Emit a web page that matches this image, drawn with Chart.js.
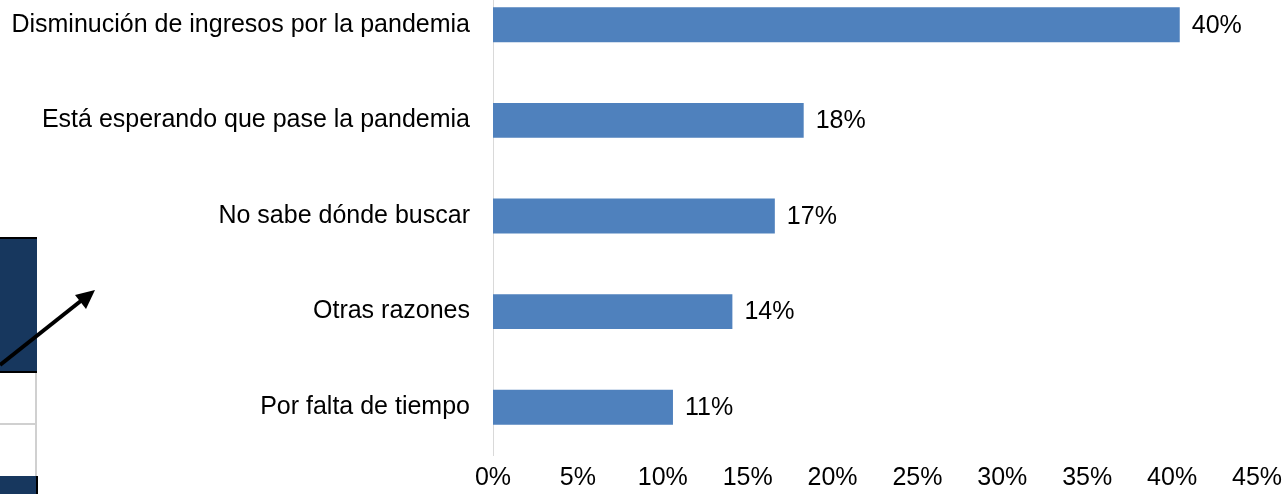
<!DOCTYPE html>
<html>
<head>
<meta charset="utf-8">
<script src="https://cdn.jsdelivr.net/npm/chart.js@4"></script>
<style>
  html, body { margin: 0; padding: 0; background: #fff; overflow: hidden; }
  #wrap { position: absolute; left: 0; top: -61px; width: 1284px; height: 555px; }
</style>
</head>
<body>
<div id="wrap"><canvas id="grafico"></canvas></div>
<script>
// Datos del gráfico
var categorias = [
  'Disminución de ingresos por la pandemia',
  'Está esperando que pase la pandemia',
  'No sabe dónde buscar',
  'Otras razones',
  'Por falta de tiempo'
];
var porcentajes = [40.45, 18.3, 16.6, 14.1, 10.6];
var ticksX = [0, 5, 10, 15, 20, 25, 30, 35, 40, 45];

var OFFSET_Y = 61; // el canvas empieza 61px por encima de la página
var FUENTE = "'Liberation Sans', Arial, sans-serif";
var TAM = 25;

// Etiquetas de valor al final de cada barra
var etiquetasValor = {
  id: 'etiquetasValor',
  afterDatasetsDraw: function(chart) {
    var ctx = chart.ctx;
    var meta = chart.getDatasetMeta(0);
    ctx.save();
    ctx.font = TAM + 'px ' + FUENTE;
    ctx.fillStyle = '#000';
    ctx.textAlign = 'left';
    ctx.textBaseline = 'middle';
    meta.data.forEach(function(bar, i) {
      ctx.fillText(Math.round(porcentajes[i]) + '%', bar.x + 12, bar.y + 1);
    });
    ctx.restore();
  }
};

// Fragmento de la diapositiva que queda a la izquierda (decorativo)
var fragmentoIzq = {
  id: 'fragmentoIzq',
  beforeDraw: function(chart) {
    var ctx = chart.ctx;
    var o = OFFSET_Y;
    ctx.save();
    ctx.fillStyle = '#17375e';
    ctx.fillRect(0, 239 + o, 37, 133);
    ctx.fillRect(0, 476 + o, 37, 20);
    ctx.fillStyle = '#000';
    ctx.fillRect(0, 237 + o, 37, 2);
    ctx.fillRect(0, 371 + o, 37, 2);
    ctx.fillRect(36, 476 + o, 2, 20);
    ctx.fillStyle = '#d0d0d0';
    ctx.fillRect(35, 373 + o, 2, 103);
    ctx.fillRect(0, 423 + o, 36, 2);
    // flecha
    ctx.strokeStyle = '#000';
    ctx.lineWidth = 4;
    ctx.beginPath();
    ctx.moveTo(0, 365 + o);
    ctx.lineTo(82, 300 + o);
    ctx.stroke();
    ctx.fillStyle = '#000';
    ctx.beginPath();
    ctx.moveTo(95, 290 + o);
    ctx.lineTo(75, 295 + o);
    ctx.lineTo(86, 309 + o);
    ctx.closePath();
    ctx.fill();
    ctx.restore();
  }
};

new Chart(document.getElementById('grafico'), {
  type: 'bar',
  data: {
    labels: categorias,
    datasets: [{
      data: porcentajes,
      backgroundColor: '#4f81bd',
      borderWidth: 0,
      barPercentage: 0.365,
      categoryPercentage: 1
    }]
  },
  options: {
    indexAxis: 'y',
    responsive: true,
    maintainAspectRatio: false,
    animation: false,
    layout: { padding: 0 },
    plugins: {
      legend: { display: false },
      tooltip: { enabled: false }
    },
    scales: {
      x: {
        min: 0,
        max: 45,
        afterBuildTicks: function(scale) {
          scale.ticks = ticksX.map(function(v) { return { value: v }; });
        },
        afterFit: function(scale) {
          scale.height = 39;
          scale.paddingRight = 27;
        },
        ticks: {
          autoSkip: false,
          maxRotation: 0,
          padding: 8,
          color: '#000',
          font: { family: FUENTE, size: TAM },
          callback: function(v) { return v + '%'; }
        },
        grid: { display: false, drawTicks: false },
        border: { display: false }
      },
      y: {
        afterFit: function(scale) { scale.width = 493; },
        ticks: {
          padding: 23,
          color: '#000',
          font: { family: FUENTE, size: TAM }
        },
        grid: { display: false, drawTicks: false },
        border: { display: true, color: '#d9d9d9', width: 1 }
      }
    }
  },
  plugins: [etiquetasValor, fragmentoIzq]
});
</script>
</body>
</html>
